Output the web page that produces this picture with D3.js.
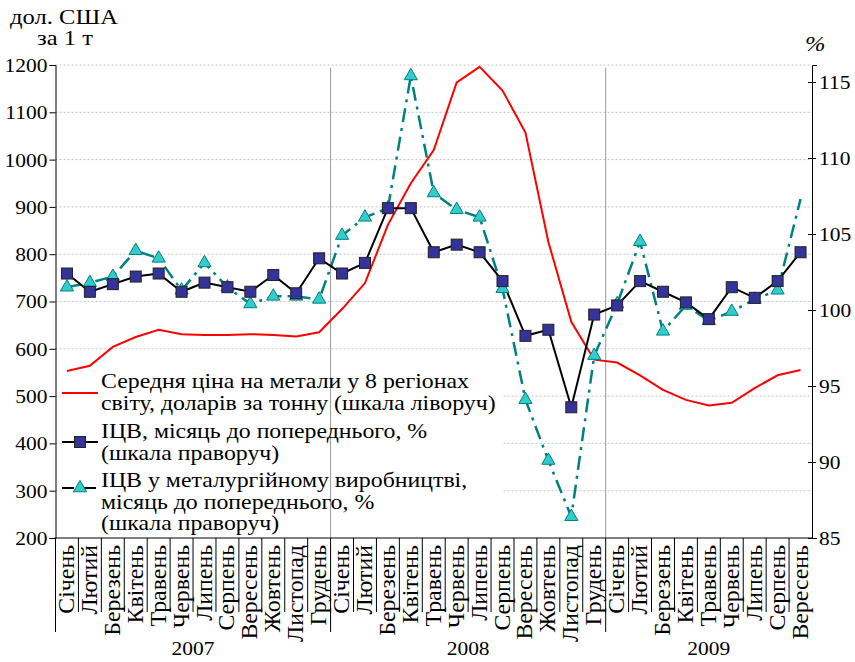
<!DOCTYPE html>
<html>
<head>
<meta charset="utf-8">
<script src="https://cdn.jsdelivr.net/npm/d3@7"></script>
<style>
  body { margin: 0; background: #fff; }
  svg text { fill: #000; }
</style>
</head>
<body>
<script>
// months and years on the category axis
var months = ["Січень", "Лютий", "Березень", "Квітень", "Травень", "Червень",
              "Липень", "Серпень", "Вересень", "Жовтень", "Листопад", "Грудень"];
var years = ["2007", "2008", "2009"];
var monthsPerYear = [12, 12, 9];

// average metal price, USD per tonne (left scale)
var price = [553, 564, 604, 625, 640, 631, 629, 629, 631, 629, 626, 635,
             684, 739, 862, 950, 1020, 1163, 1196, 1146, 1057, 826, 657, 577,
             571, 544, 513, 492, 480, 486, 517, 544, 555];

// producer price index, month to previous, % (right scale)
var icv = [102.4, 101.2, 101.7, 102.2, 102.4, 101.2, 101.8, 101.5, 101.2, 102.3, 101.1, 103.4,
           102.4, 103.1, 106.7, 106.7, 103.8, 104.3, 103.8, 101.9, 98.3, 98.7, 93.6, 99.7,
           100.3, 101.9, 101.2, 100.5, 99.4, 101.5, 100.8, 101.9, 103.8];

// producer price index in metallurgy, month to previous, % (right scale)
var icvMetal = [101.5, 101.8, 102.2, 103.9, 103.4, 101.3, 103.1, 101.5, 100.4, 100.9, 100.9, 100.7,
                104.9, 106.1, 106.7, 115.4, 107.7, 106.6, 106.1, 101.4, 94.1, 90.1, 86.4, 97.0,
                100.4, 104.5, 98.6, 100.3, 99.3, 99.9, 100.7, 101.3, 107.3];

var leftTicks = [200, 300, 400, 500, 600, 700, 800, 900, 1000, 1100, 1200];
var rightTicks = [85, 90, 95, 100, 105, 110, 115];

var legendItems = [
  ["Середня ціна на метали у 8 регіонах", "світу, доларів за тонну (шкала ліворуч)"],
  ["ІЦВ, місяць до попереднього, %", "(шкала праворуч)"],
  ["ІЦВ у металургійному виробництві,", "місяць до попереднього, %", "(шкала праворуч)"]
];

var W = 855, H = 662;
var pL = 55.5, pR = 812, pT = 65, pB = 538;
var serif = "'Liberation Serif', 'DejaVu Serif', serif";

var labels = [];
years.forEach(function(y, k) {
  for (var m = 0; m < monthsPerYear[k]; m++) labels.push({ month: months[m], year: y, m: m });
});

var x = d3.scaleBand()
    .domain(d3.range(labels.length))
    .range([pL, pR]);

var yL = d3.scaleLinear().domain([200, 1200]).range([pB, pT]);
var yR = d3.scaleLinear().domain([85, 85 + (pB - pT) / 15.2]).range([pB, pT]);

function cx(i) { return x(i) + x.bandwidth() / 2; }

var svg = d3.select("body").append("svg")
    .attr("width", W)
    .attr("height", H)
    .attr("font-family", serif);

// the source type is set wider than Times; measure a sample and stretch to its width
function widthFactor(str, size, target) {
  var t = svg.append("text").attr("font-family", serif).style("font-size", size + "px").text(str);
  var len = t.node().getComputedTextLength();
  t.remove();
  return target / len;
}
var kTick = widthFactor("1200", 19, 43);
var kLegend = widthFactor(legendItems[0][0], 20, 368);
var kMonth = widthFactor("Листопад", 24, 97);
var kCap = widthFactor("дол. США", 20, 108);

function wideText(g, tx, ty, str, size, k, anchor) {
  return g.append("text")
      .attr("transform", "translate(" + tx + "," + ty + ") scale(" + k + ",1)")
      .attr("text-anchor", anchor || "start")
      .attr("font-family", serif)
      .style("font-size", size + "px")
      .text(str);
}

// dotted gridlines on the left scale
svg.append("g")
  .selectAll("line")
  .data(leftTicks.slice(1))
  .enter().append("line")
    .attr("x1", pL).attr("x2", pR)
    .attr("y1", function(d) { return yL(d); })
    .attr("y2", function(d) { return yL(d); })
    .attr("stroke", "#c4c4c4")
    .attr("stroke-dasharray", "2,2");

// legend backgrounds (white boxes over the grid)
var legendTop = [373, 420, 468];
var legendBottom = [415, 463, 531];
svg.append("g")
  .selectAll("rect")
  .data(legendItems)
  .enter().append("rect")
    .attr("x", 62)
    .attr("y", function(d, i) { return legendTop[i]; })
    .attr("width", 440)
    .attr("height", function(d, i) { return legendBottom[i] - legendTop[i]; })
    .attr("fill", "#fff");

// year separators inside the plot
var yearStarts = [12, 24];
svg.append("g")
  .selectAll("line")
  .data(yearStarts)
  .enter().append("line")
    .attr("x1", function(d) { return x(d); })
    .attr("x2", function(d) { return x(d); })
    .attr("y1", pT + 3).attr("y2", pB)
    .attr("stroke", "#999");

// category axis: separators between months, longer ones between years
var sep = svg.append("g");
labels.forEach(function(d, i) {
  sep.append("line")
      .attr("x1", x(i)).attr("x2", x(i))
      .attr("y1", pB).attr("y2", d.m === 0 ? 632 : 612)
      .attr("stroke", "#000");
});

svg.append("g")
  .selectAll("text")
  .data(labels)
  .enter().append("text")
    .attr("transform", function(d, i) {
      return "translate(" + (cx(i) + 7) + "," + (pB + 7) + ") rotate(-90) scale(" + kMonth + ",1)";
    })
    .attr("text-anchor", "end")
    .attr("font-family", serif)
    .style("font-size", "24px")
    .text(function(d) { return d.month; });

var yearG = svg.append("g");
years.forEach(function(d, k) {
  var first = d3.sum(monthsPerYear.slice(0, k));
  var last = first + monthsPerYear[k] - 1;
  wideText(yearG, (x(first) + x(last) + x.bandwidth()) / 2, 655, d, 19, kTick, "middle");
});

svg.append("line")
    .attr("x1", pL - 1).attr("x2", pR)
    .attr("y1", pB).attr("y2", pB)
    .attr("stroke", "#000");

// left axis
var axL = svg.append("g")
    .attr("transform", "translate(" + pL + ",0)")
    .call(d3.axisLeft(yL).tickValues(leftTicks).tickFormat(d3.format("d")).tickSize(6).tickPadding(2));
axL.attr("font-family", serif);
axL.select(".domain").attr("stroke", "#000");
axL.selectAll("text")
    .style("font-size", "19px")
    .attr("x", null).attr("dy", "0.34em")
    .attr("transform", "translate(-8,0) scale(" + kTick + ",1)");

// right axis
var axR = svg.append("g")
    .attr("transform", "translate(" + pR + ",0)")
    .call(d3.axisRight(yR).tickValues(rightTicks).tickSize(5).tickPadding(3));
axR.attr("font-family", serif);
axR.select(".domain").attr("stroke", "#000");
axR.selectAll(".tick line").attr("x1", -4).attr("x2", 4);
axR.selectAll("text")
    .style("font-size", "19px")
    .attr("x", null).attr("dy", "0.34em")
    .attr("transform", "translate(7,0) scale(" + kTick + ",1)");

// unit captions
wideText(svg, 10, 24, "дол. США", 20, kCap);
wideText(svg, 37, 45, "за 1 т", 20, kCap);
wideText(svg, 805, 51, "%", 20, kCap).style("font-style", "italic");

// price line (left scale)
var priceLine = d3.line()
    .x(function(d, i) { return cx(i); })
    .y(function(d) { return yL(d); });

svg.append("path")
    .datum(price)
    .attr("d", priceLine)
    .attr("fill", "none")
    .attr("stroke", "#ff0000")
    .attr("stroke-width", 2);

// metallurgy index (right scale)
var rLine = d3.line()
    .x(function(d, i) { return cx(i); })
    .y(function(d) { return yR(d); });

svg.append("path")
    .datum(icvMetal)
    .attr("d", rLine)
    .attr("fill", "none")
    .attr("stroke", "#008080")
    .attr("stroke-width", 2.5)
    .attr("stroke-dasharray", "14,6,3,6");

// overall index (right scale)
svg.append("path")
    .datum(icv)
    .attr("d", rLine)
    .attr("fill", "none")
    .attr("stroke", "#000")
    .attr("stroke-width", 2);

var tri = d3.symbol().type(d3.symbolTriangle).size(75);

svg.append("g")
  .selectAll("path")
  .data(icvMetal.slice(0, icvMetal.length - 1))
  .enter().append("path")
    .attr("d", tri)
    .attr("transform", function(d, i) { return "translate(" + cx(i) + "," + yR(d) + ")"; })
    .attr("fill", "#33cccc")
    .attr("stroke", "#008080")
    .attr("stroke-width", 1);

svg.append("g")
  .selectAll("rect")
  .data(icv)
  .enter().append("rect")
    .attr("x", function(d, i) { return cx(i) - 5.5; })
    .attr("y", function(d) { return yR(d) - 5.5; })
    .attr("width", 11).attr("height", 11)
    .attr("fill", "#333399")
    .attr("stroke", "#222")
    .attr("stroke-width", 1);

// legend
var lg = svg.append("g");
var lineH = 21.5;
var firstBase = [388, 438, 487];
legendItems.forEach(function(lines, k) {
  lines.forEach(function(t, j) {
    wideText(lg, 101, firstBase[k] + j * lineH, t, 20, kLegend);
  });
});
var ly = [393, 442, 488];
lg.append("line").attr("x1", 62).attr("x2", 98).attr("y1", ly[0]).attr("y2", ly[0])
    .attr("stroke", "#ff0000").attr("stroke-width", 2);
lg.append("line").attr("x1", 62).attr("x2", 98).attr("y1", ly[1]).attr("y2", ly[1])
    .attr("stroke", "#000").attr("stroke-width", 2);
lg.append("rect").attr("x", 74.5).attr("y", ly[1] - 5.5).attr("width", 11).attr("height", 11)
    .attr("fill", "#333399").attr("stroke", "#222");
lg.append("line").attr("x1", 62).attr("x2", 98).attr("y1", ly[2]).attr("y2", ly[2])
    .attr("stroke", "#000").attr("stroke-width", 2).attr("stroke-dasharray", "12,4,2,4");
lg.append("path").attr("d", tri)
    .attr("transform", "translate(80," + ly[2] + ")")
    .attr("fill", "#33cccc").attr("stroke", "#008080");
</script>
</body>
</html>
